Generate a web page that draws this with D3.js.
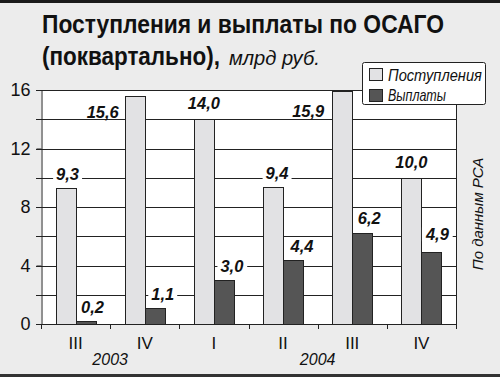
<!DOCTYPE html>
<html>
<head>
<meta charset="utf-8">
<script src="https://cdn.jsdelivr.net/npm/d3@7"></script>
<style>
  body { margin: 0; background: #ececec; }
  svg { display: block; font-family: "Liberation Sans", Arial, sans-serif; }
</style>
</head>
<body>
<svg id="chart" width="500" height="377"></svg>
<script>
// data
const quarters = ["III", "IV", "I", "II", "III", "IV"];
const quarterYear = ["2003", "2003", "2004", "2004", "2004", "2004"];
const receipts = [9.3, 15.6, 14.0, 9.4, 15.9, 10.0];
const payouts = [0.2, 1.1, 3.0, 4.4, 6.2, 4.9];
const yTicks = [0, 4, 8, 12, 16];
const gridValues = [2, 4, 6, 8, 10, 12, 14, 16];

// label nudges (dx, dy) so tall bars keep their labels beside them
const receiptNudge = [[2, 0], [-32, 30], [0, -2], [4, 0], [-34, 34], [0, -2]];
const payoutNudge = [[7, 0], [8, 0], [8, 0], [9, 0], [7, -1], [6, -4]];

const svg = d3.select("#chart");
const W = 500, H = 377;

// frame
svg.append("rect").attr("width", W).attr("height", H).attr("fill", "#ececec");
svg.append("rect").attr("x", 0).attr("y", 0).attr("width", W).attr("height", 3).attr("fill", "#1a1a1a");
svg.append("rect").attr("x", 0).attr("y", 374).attr("width", W).attr("height", 3).attr("fill", "#333");

const plot = { left: 41, right: 456, top: 90, bottom: 324 };

const x = d3.scaleBand()
    .domain(d3.range(quarters.length))
    .range([plot.left, plot.right]);

const x1 = d3.scaleBand()
    .domain(["receipts", "payouts"])
    .range([0, x.bandwidth()])
    .paddingOuter(0.73);

const y = d3.scaleLinear()
    .domain([0, 16])
    .range([plot.bottom, plot.top]);

// plot background
svg.append("rect")
    .attr("x", plot.left).attr("y", plot.top)
    .attr("width", plot.right - plot.left).attr("height", plot.bottom - plot.top)
    .attr("fill", "#fff");

// gridlines with small ticks on the left
svg.append("g").selectAll("line")
    .data(gridValues)
    .join("line")
    .attr("x1", plot.left - 5).attr("x2", plot.right)
    .attr("y1", d => Math.round(y(d)) + 0.5).attr("y2", d => Math.round(y(d)) + 0.5)
    .attr("stroke", "#222").attr("stroke-width", 1);

// y axis
svg.append("g")
    .attr("transform", `translate(${plot.left + 0.5},0)`)
    .call(d3.axisLeft(y).tickValues(yTicks).tickSize(5).tickPadding(6).tickFormat(d3.format("d")))
    .call(g => g.select(".domain").attr("stroke", "#222"))
    .call(g => g.selectAll(".tick line").attr("stroke", "#222"))
    .selectAll("text")
    .style("font-size", "18px")
    .attr("fill", "#111");

// right border
svg.append("line")
    .attr("x1", plot.right + 0.5).attr("x2", plot.right + 0.5)
    .attr("y1", plot.top).attr("y2", plot.bottom + 5)
    .attr("stroke", "#222");

// bottom axis with ticks between groups
const boundaries = d3.range(quarters.length + 1).map(i => plot.left + i * x.step());
svg.append("line")
    .attr("x1", plot.left - 5).attr("x2", plot.right)
    .attr("y1", plot.bottom + 0.5).attr("y2", plot.bottom + 0.5)
    .attr("stroke", "#222");
svg.append("g").selectAll("line")
    .data(boundaries)
    .join("line")
    .attr("x1", d => Math.round(d) + 0.5).attr("x2", d => Math.round(d) + 0.5)
    .attr("y1", plot.bottom).attr("y2", plot.bottom + 5)
    .attr("stroke", "#222");

// quarter labels
svg.append("g").selectAll("text")
    .data(quarters)
    .join("text")
    .attr("x", (d, i) => x(i) + x.bandwidth() / 2)
    .attr("y", 349)
    .attr("text-anchor", "middle")
    .style("font-size", "17px")
    .attr("fill", "#111")
    .text(d => d);

// year labels centred under their quarters
const yearGroups = d3.groups(quarters.map((q, i) => ({ i, year: quarterYear[i] })), d => d.year);
svg.append("g").selectAll("text")
    .data(yearGroups)
    .join("text")
    .attr("x", ([, v]) => d3.mean(v, d => x(d.i) + x.bandwidth() / 2))
    .attr("y", 365)
    .attr("text-anchor", "middle")
    .style("font-size", "16px")
    .style("font-style", "italic")
    .attr("fill", "#111")
    .text(([year]) => year);

// bars
const series = [
    { key: "receipts", values: receipts, fill: "#e2e2e4", nudge: receiptNudge },
    { key: "payouts", values: payouts, fill: "#555555", nudge: payoutNudge }
];

series.forEach(s => {
    svg.append("g").selectAll("rect")
        .data(s.values)
        .join("rect")
        .attr("x", (d, i) => Math.round(x(i) + x1(s.key)) + 0.5)
        .attr("y", d => Math.round(y(d)) + 0.5)
        .attr("width", Math.round(x1.bandwidth()))
        .attr("height", d => Math.round(y(0)) - Math.round(y(d)))
        .attr("fill", s.fill)
        .attr("stroke", "#222")
        .attr("stroke-width", 1);
});

// value labels on white boxes
const fmt = d => d.toFixed(1).replace(".", ",");
series.forEach(s => {
    const g = svg.append("g");
    s.values.forEach((v, i) => {
        const cx = x(i) + x1(s.key) + x1.bandwidth() / 2 + s.nudge[i][0];
        const cy = y(v) - 14 + s.nudge[i][1];
        const lbl = g.append("g");
        const box = lbl.append("rect").attr("fill", "#fff");
        const t = lbl.append("text")
            .attr("x", cx)
            .attr("y", cy + 6)
            .attr("text-anchor", "middle")
            .style("font-size", "16.5px")
            .style("font-weight", "bold")
            .style("font-style", "italic")
            .attr("fill", "#111")
            .text(fmt(v));
        const bb = t.node().getBBox();
        box.attr("x", bb.x - 3).attr("y", cy - 7)
            .attr("width", bb.width + 6).attr("height", 14);
    });
});

// condensed text: squeeze horizontally to a target width
function squeezed(parent, tx, ty, width, str, size, weight, style) {
    const t = parent.append("text")
        .style("font-size", size + "px")
        .style("font-weight", weight)
        .style("font-style", style)
        .attr("fill", "#111")
        .text(str);
    const natural = t.node().getComputedTextLength();
    t.attr("transform", `translate(${tx},${ty}) scale(${width / natural},1)`);
    return t;
}

// title
squeezed(svg, 42, 33, 402, "Поступления и выплаты по ОСАГО", 25, "bold", "normal");
squeezed(svg, 42, 65, 178, "(поквартально),", 25, "bold", "normal");
squeezed(svg, 229, 65, 91, "млрд руб.", 21, "normal", "italic");

// legend
const legend = svg.append("g");
legend.append("rect")
    .attr("x", 362.5).attr("y", 62.5).attr("width", 123).attr("height", 42).attr("rx", 2)
    .attr("fill", "#fff").attr("stroke", "#222");
const legendItems = [
    { label: "Поступления", fill: "#e2e2e4", len: 94 },
    { label: "Выплаты", fill: "#555555", len: 58 }
];
legendItems.forEach((d, i) => {
    legend.append("rect")
        .attr("x", 369.5).attr("y", 68.5 + i * 21).attr("width", 13).attr("height", 12)
        .attr("fill", d.fill).attr("stroke", "#222");
    squeezed(legend, 388, 81 + i * 20, d.len, d.label, 16, "normal", "italic");
});

// source note
svg.append("text")
    .attr("transform", "translate(483,214) rotate(-90)")
    .attr("text-anchor", "middle")
    .style("font-size", "15px").style("font-style", "italic")
    .attr("fill", "#111")
    .text("По данным РСА");
</script>
</body>
</html>
